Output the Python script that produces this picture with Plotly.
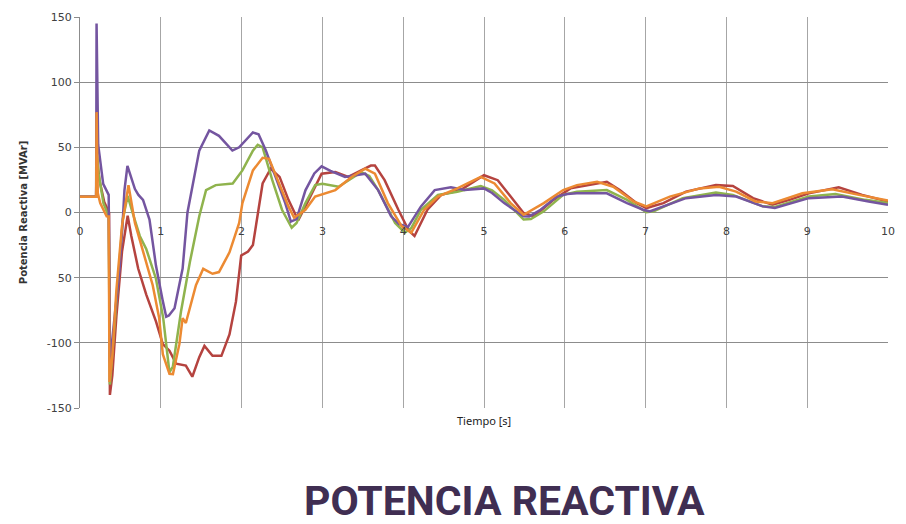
import plotly.graph_objects as go

# Reactive power response of four units after the disturbance at t = 0.2 s
t_red = [0, 0.2, 0.205, 0.24, 0.3, 0.36, 0.37, 0.4, 0.45, 0.52, 0.59, 0.635, 0.72, 0.82, 0.94,
         1.025, 1.107, 1.19, 1.31, 1.39, 1.476, 1.54, 1.64, 1.75, 1.85, 1.93, 1.995, 2.08, 2.14,
         2.2, 2.26, 2.36, 2.47, 2.58, 2.7, 2.83, 2.99, 3.16, 3.32, 3.48, 3.6, 3.65, 3.77, 3.94,
         4.07, 4.14, 4.3, 4.47, 4.71, 5.0, 5.17, 5.33, 5.49, 5.62, 5.86, 6.07, 6.31, 6.52, 6.68,
         6.89, 7.01, 7.22, 7.5, 7.87, 8.08, 8.33, 8.57, 8.78, 9.02, 9.39, 9.68, 10]
q_red = [12, 12, 45, 25, 8, 0, -140, -125, -80, -30, -2.4, -18, -43, -63, -83.5,
         -101, -106, -116, -117.5, -126, -111, -102.4, -110, -110, -93.6, -68.4, -33, -30, -25,
         0, 22.3, 33.6, 27.3, 9.7, -6, 9.7, 29.8, 31, 27.3, 32.3, 36, 36, 24.8, 2.1,
         -14, -18, 2.1, 13.5, 17.2, 28.6, 24.8, 12.2, -0.4, -2.9, 9.7, 18.5, 21, 23.6, 17.2,
         7.2, 3.4, 7.2, 16, 21, 20.3, 11, 5.9, 9.7, 14.7, 19.3, 13.5, 8.5]

t_green = [0, 0.2, 0.205, 0.23, 0.29, 0.355, 0.37, 0.42, 0.48, 0.53, 0.59, 0.65, 0.74, 0.82, 0.94,
           1.03, 1.107, 1.15, 1.25, 1.36, 1.476, 1.56, 1.68, 1.89, 2.01, 2.14, 2.2, 2.26, 2.38,
           2.5, 2.62, 2.68, 2.79, 2.91, 3.0, 3.2, 3.48, 3.58, 3.69, 3.9, 4.02, 4.1, 4.22, 4.43,
           4.67, 4.96, 5.1, 5.25, 5.49, 5.58, 5.74, 5.98, 6.15, 6.52, 6.77, 7.01, 7.1, 7.46, 7.87,
           8.08, 8.45, 8.6, 9.02, 9.35, 9.72, 10]
q_green = [12, 12, 50, 30, 7.2, -2.9, -132, -95, -45, -5, 12.7, 0, -18, -28, -50.8,
           -81, -122.6, -118, -76, -38, -2.9, 17.2, 21, 22.3, 32.3, 47.5, 52, 50, 24.8,
           2.1, -11.7, -8, 7.2, 21, 22, 19.8, 31, 28, 17.2, -8, -15.5, -12, 2.1, 13.5,
           16, 20.3, 17, 9.7, -5.4, -5, 0.9, 13.5, 16, 17.2, 9.7, 0.2, 1, 11, 15.3,
           13.5, 4.7, 4.2, 12.2, 14.2, 9.7, 7.2]

t_purple = [0, 0.2, 0.205, 0.225, 0.287, 0.34, 0.355, 0.37, 0.43, 0.49, 0.53, 0.55, 0.587, 0.62,
            0.68, 0.723, 0.78, 0.86, 0.94, 1.025, 1.067, 1.1, 1.17, 1.27, 1.33, 1.476, 1.6, 1.72,
            1.886, 1.97, 2.14, 2.21, 2.3, 2.42, 2.54, 2.61, 2.68, 2.79, 2.9, 2.99, 3.1, 3.28,
            3.53, 3.69, 3.85, 3.95, 4.06, 4.22, 4.39, 4.59, 4.76, 5.0, 5.1, 5.25, 5.49, 5.56,
            5.7, 5.9, 6.03, 6.15, 6.52, 6.77, 6.97, 7.05, 7.5, 7.87, 8.12, 8.45, 8.6, 9.02,
            9.43, 9.76, 10]
q_purple = [12, 12, 145, 52, 22, 15, 13.5, -115, -81, -43, -5.4, 17, 35.7, 30,
            18, 13.5, 9.7, -5.4, -40.7, -68, -80, -79, -73.4, -43, 0, 47.5, 63, 58.8,
            47.5, 50, 61.4, 60, 47.5, 27.3, 7.2, -7, -5, 17, 30, 35.4, 32, 27.3,
            29.8, 17.2, -2.9, -9, -11, 4.7, 17.2, 19.3, 17.2, 18.5, 15, 7.2, -2.9, -3,
            2.1, 12.2, 14.2, 14.7, 14.7, 7.2, 2.1, 0.9, 11, 13.5, 12.2, 4.7, 3.4, 11,
            12.2, 8.5, 5.9]

t_orange = [0, 0.2, 0.205, 0.22, 0.25, 0.33, 0.355, 0.365, 0.4, 0.45, 0.52, 0.6, 0.68, 0.78, 0.9,
            0.98, 1.025, 1.107, 1.15, 1.23, 1.27, 1.31, 1.435, 1.525, 1.64, 1.72, 1.85, 1.97,
            2.01, 2.14, 2.26, 2.34, 2.46, 2.58, 2.65, 2.79, 2.91, 3.16, 3.36, 3.53, 3.65, 3.81,
            3.98, 4.1, 4.26, 4.43, 4.67, 4.96, 5.13, 5.33, 5.49, 5.74, 5.98, 6.15, 6.4, 6.6,
            6.85, 7.01, 7.3, 7.67, 7.91, 8.12, 8.36, 8.57, 8.94, 9.31, 9.64, 10]
q_orange = [12, 12, 77, 15, 7.2, -2.9, -3, -130, -110, -60, -10, 21, -8, -30.6, -55.8,
            -81, -108.7, -123.8, -124, -101, -81, -84.8, -55.8, -43.2, -47, -45.7, -30.6, -8,
            7.2, 32.3, 42, 41.2, 22.3, 4.7, -4, 2.1, 12.2, 17.2, 27.3, 33.6, 29.8, 7.2,
            -10.4, -15.5, 2.1, 12.2, 18.5, 27.3, 22.3, 7.2, -1.7, 7.2, 17.2, 21, 23.6, 19.8,
            8.5, 4.7, 12.2, 18.5, 19.8, 16, 8.5, 7.2, 14.7, 17.8, 13.5, 9.2]

x_ticks = list(range(0, 11))
y_ticks = [-150, -100, -50, 0, 50, 100, 150]
y_ticktext = ["-150", "-100", "50", "0", "50", "100", "150"]

series = [
    ("Q1", t_red, q_red, "#b5433f"),
    ("Q2", t_green, q_green, "#8fb34d"),
    ("Q3", t_purple, q_purple, "#7455a0"),
    ("Q4", t_orange, q_orange, "#ec8a32"),
]

fig = go.Figure()
for name, t, q, color in series:
    fig.add_trace(go.Scatter(x=t, y=q, mode="lines", name=name,
                             line=dict(color=color, width=2.5)))

fig.update_layout(
    width=906, height=524,
    margin=dict(l=80, r=13, t=11, b=116),
    paper_bgcolor="white", plot_bgcolor="white",
    showlegend=False,
    font=dict(family="DejaVu Sans", size=11, color="#404040"),
)

fig.update_xaxes(
    range=[0, 10], tickvals=x_ticks,
    anchor="free", position=0.5,
    showline=False, zeroline=False,
    showgrid=True, gridcolor="#a6a6a6", gridwidth=1,
    ticks="", ticklabelstandoff=10,
    tickfont=dict(family="DejaVu Sans", size=11, color="#404040"),
)

fig.update_yaxes(
    range=[-150, 150], tickvals=y_ticks, ticktext=y_ticktext,
    showline=True, linecolor="#8c8c8c", linewidth=1,
    zeroline=False,
    showgrid=True, gridcolor="#8c8c8c", gridwidth=1,
    ticks="outside", ticklen=5, tickcolor="#8c8c8c",
    tickfont=dict(family="DejaVu Sans", size=11, color="#404040"),
    title=dict(text="<b>Potencia Reactiva [MVAr]</b>",
               font=dict(family="DejaVu Sans", size=10, color="#333333"),
               standoff=17),
)

fig.add_annotation(
    text="Tiempo [s]", xref="paper", yref="paper", x=0.5006, y=-0.033,
    xanchor="center", yanchor="middle", showarrow=False,
    font=dict(family="Noto Sans", size=11, color="#222222"),
)

fig.add_annotation(
    text="<b>POTENCIA REACTIVA</b>", xref="paper", yref="paper", x=0.525, y=-0.238,
    xanchor="center", yanchor="middle", showarrow=False,
    font=dict(family="Roboto", size=41, color="#402e52"),
)

fig.write_html("out.html")
